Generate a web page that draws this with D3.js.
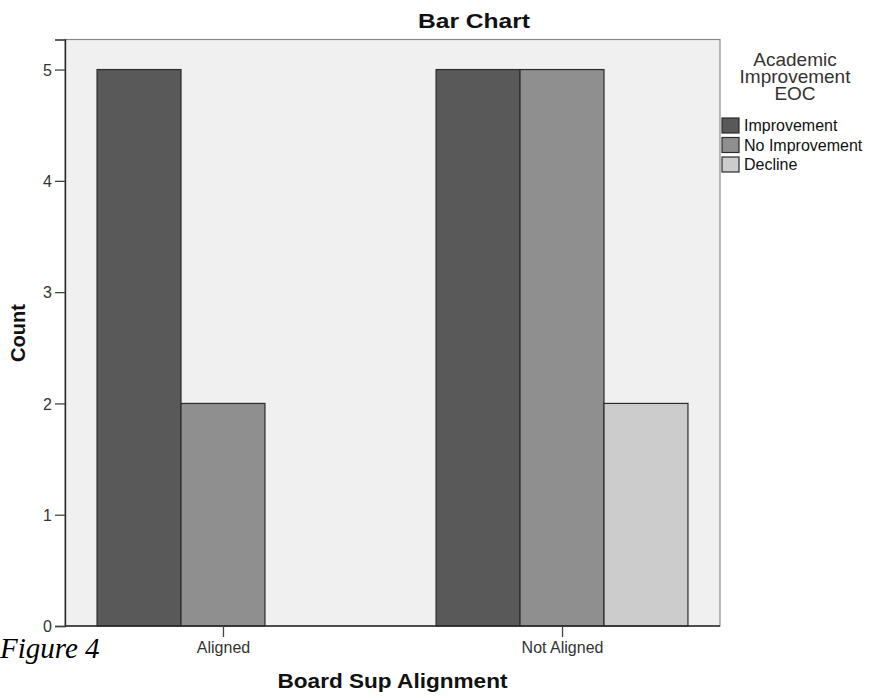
<!DOCTYPE html>
<html><head><meta charset="utf-8">
<script src="https://cdn.jsdelivr.net/npm/d3@7"></script>
<style>
html,body{margin:0;padding:0;background:#fff;overflow:hidden;}
svg{display:block;}
text{font-family:"Liberation Sans",Arial,sans-serif;}
</style></head>
<body><svg id="chart" width="874" height="698"></svg>
<script>
const categories = ["Aligned", "Not Aligned"];
const seriesNames = ["Improvement", "No Improvement", "Decline"];
const improvement = [5, 5];
const noImprovement = [2, 5];
const decline = [0, 2];
const yTicks = [0, 1, 2, 3, 4, 5];
const seriesColors = ["#595959", "#8f8f8f", "#cccccc"];

const series = [improvement, noImprovement, decline];
const svg = d3.select("#chart");
const pLeft = 65, pRight = 720, pTop = 39.5, pBottom = 626;

const x = d3.scalePoint().domain(categories).range([pLeft, pRight]).padding(0.466);
const groupW = x.step() * 0.743;
const xs = d3.scaleBand().domain(seriesNames).range([-groupW / 2, groupW / 2]).padding(0);
const y = d3.scaleLinear().domain([0, 5.27]).range([pBottom, pTop]);

// plot background
svg.append("rect").attr("x", pLeft).attr("y", pTop).attr("width", pRight - pLeft).attr("height", pBottom - pTop)
  .attr("fill", "#f0f0f0").attr("stroke", "#8a8a8a").attr("stroke-width", 1.2);

// bars
const rows = [];
categories.forEach((c, i) => seriesNames.forEach((s, j) => rows.push({c, s, v: series[j][i], j})));
svg.append("g").selectAll("rect").data(rows.filter(d => d.v > 0)).join("rect")
  .attr("x", d => x(d.c) + xs(d.s))
  .attr("y", d => y(d.v))
  .attr("width", xs.bandwidth())
  .attr("height", d => y(0) - y(d.v))
  .attr("fill", d => seriesColors[d.j])
  .attr("stroke", "#2b2b2b").attr("stroke-width", 1.2);

// axes
const yAxis = svg.append("g").attr("transform", `translate(${pLeft},0)`)
  .call(d3.axisLeft(y).tickValues(yTicks).tickSize(10).tickPadding(3).tickFormat(d3.format("d")));
const xAxis = svg.append("g").attr("transform", `translate(0,${pBottom})`)
  .call(d3.axisBottom(x).tickSize(11).tickPadding(5));
[yAxis, xAxis].forEach(g => {
  g.select(".domain").attr("stroke", "#2b2b2b").attr("stroke-width", 1.4);
  g.selectAll(".tick line").attr("stroke", "#444").attr("stroke-width", 1.3);
  g.selectAll(".tick text").attr("fill", "#333").style("font-size", "16px").style("font-family", "Liberation Sans, Arial, sans-serif");
});
xAxis.select(".domain").attr("d", `M${pLeft},0H${pRight}`);
xAxis.selectAll(".tick text").attr("dy", "0.7em");
yAxis.selectAll(".tick text").attr("dy", "0.35em");

// titles
svg.append("text").attr("x", 418).attr("y", 28).attr("font-weight", "bold").attr("font-size", 20)
  .attr("textLength", 112).attr("lengthAdjust", "spacingAndGlyphs")
  .attr("fill", "#111").text("Bar Chart");
svg.append("text").attr("x", (pLeft + pRight) / 2).attr("y", 688).attr("text-anchor", "middle")
  .attr("font-weight", "bold").attr("font-size", 20)
  .attr("textLength", 230).attr("lengthAdjust", "spacingAndGlyphs")
  .attr("fill", "#111").text("Board Sup Alignment");
svg.append("text").attr("transform", `translate(25,333) rotate(-90)`).attr("text-anchor", "middle")
  .attr("font-weight", "bold").attr("font-size", 20).attr("fill", "#111").text("Count");

// figure caption
svg.append("text").attr("x", 0).attr("y", 658).attr("font-size", 29).attr("font-style", "italic")
  .style("font-family", "Liberation Serif, Times New Roman, serif").attr("fill", "#000").text("Figure 4");

// legend
const legTitle = ["Academic", "Improvement", "EOC"];
svg.append("g").selectAll("text").data(legTitle).join("text")
  .attr("x", 795).attr("y", (d, i) => 66 + i * 17).attr("text-anchor", "middle")
  .attr("font-size", 19).attr("fill", "#333").text(d => d);
const leg = svg.append("g").selectAll("g").data(seriesNames).join("g")
  .attr("transform", (d, i) => `translate(722,${118 + i * 19.5})`);
leg.append("rect").attr("width", 17).attr("height", 15)
  .attr("fill", (d, i) => seriesColors[i]).attr("stroke", "#2b2b2b").attr("stroke-width", 1.2);
leg.append("text").attr("x", 22).attr("y", 13).attr("font-size", 16).attr("fill", "#111").text(d => d);
</script></body></html>
